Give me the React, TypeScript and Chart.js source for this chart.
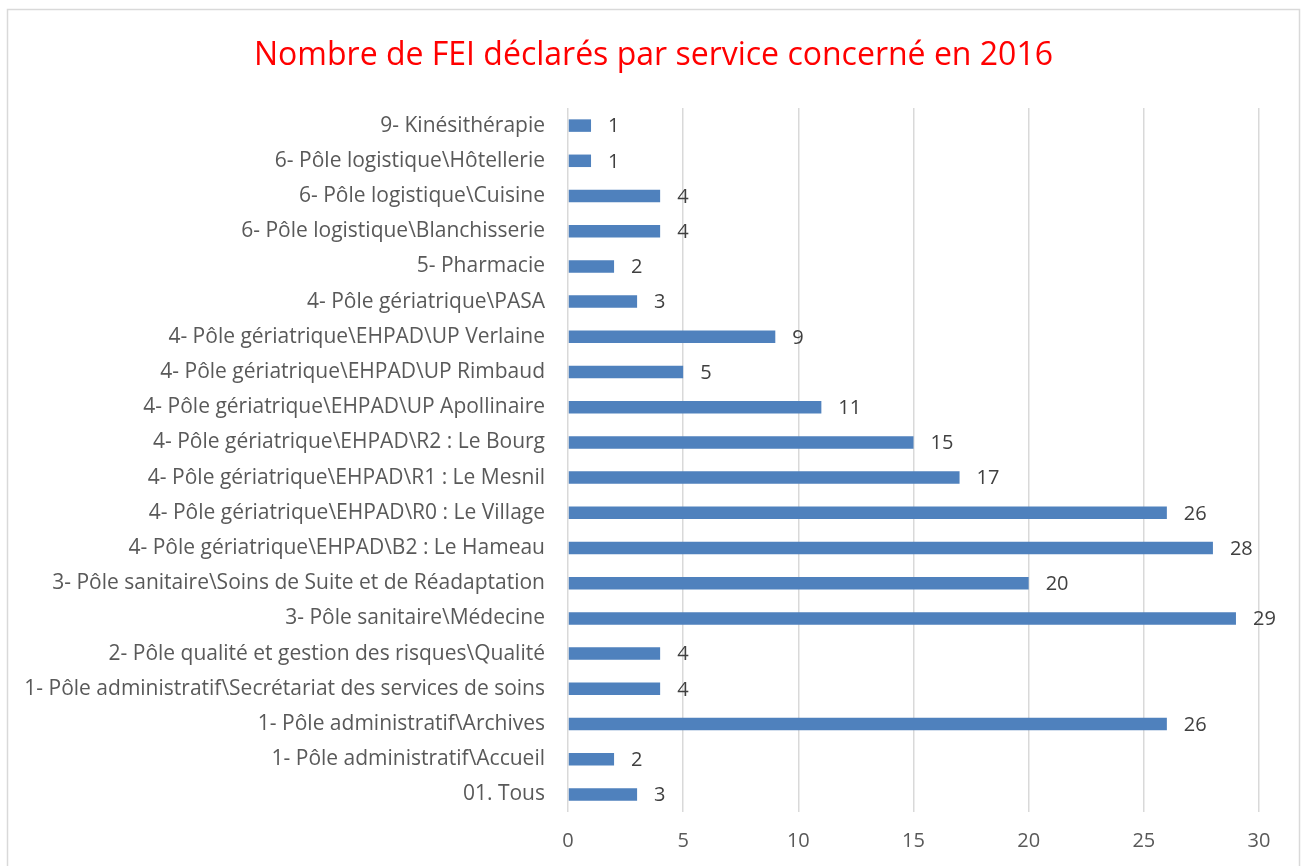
import React, { useEffect, useRef } from "react";
import { Chart, registerables } from "chart.js";

Chart.register(...registerables);

const TITLE = "Nombre de FEI déclarés par service concerné en 2016";

const categories: string[] = [
  "9- Kinésithérapie",
  "6- Pôle logistique\\Hôtellerie",
  "6- Pôle logistique\\Cuisine",
  "6- Pôle logistique\\Blanchisserie",
  "5- Pharmacie",
  "4- Pôle gériatrique\\PASA",
  "4- Pôle gériatrique\\EHPAD\\UP Verlaine",
  "4- Pôle gériatrique\\EHPAD\\UP Rimbaud",
  "4- Pôle gériatrique\\EHPAD\\UP Apollinaire",
  "4- Pôle gériatrique\\EHPAD\\R2 : Le Bourg",
  "4- Pôle gériatrique\\EHPAD\\R1 : Le Mesnil",
  "4- Pôle gériatrique\\EHPAD\\R0 : Le Village",
  "4- Pôle gériatrique\\EHPAD\\B2 : Le Hameau",
  "3- Pôle sanitaire\\Soins de Suite et de Réadaptation",
  "3- Pôle sanitaire\\Médecine",
  "2- Pôle qualité et gestion des risques\\Qualité",
  "1- Pôle administratif\\Secrétariat des services de soins",
  "1- Pôle administratif\\Archives",
  "1- Pôle administratif\\Accueil",
  "01. Tous",
];

const values: number[] = [1, 1, 4, 4, 2, 3, 9, 5, 11, 15, 17, 26, 28, 20, 29, 4, 4, 26, 2, 3];

const xTicks: number[] = [0, 5, 10, 15, 20, 25, 30];

const FONT = "'Open Sans'";

const valueLabels = {
  id: "valueLabels",
  afterDatasetsDraw(chart: any) {
    const ctx = chart.ctx;
    const meta = chart.getDatasetMeta(0);
    ctx.save();
    ctx.font = `20px ${FONT}`;
    ctx.fillStyle = "#404040";
    ctx.textAlign = "left";
    ctx.textBaseline = "middle";
    meta.data.forEach((bar: any, i: number) => {
      ctx.fillText(String(values[i]), bar.x + 17, bar.y + 1);
    });
    ctx.restore();
  },
};

const outerBorder = {
  id: "outerBorder",
  beforeDraw(chart: any) {
    const ctx = chart.ctx;
    ctx.save();
    ctx.fillStyle = "#ffffff";
    ctx.fillRect(0, 0, chart.width, chart.height);
    ctx.strokeStyle = "#d9d9d9";
    ctx.lineWidth = 1.5;
    ctx.strokeRect(7.5, 9.5, chart.width - 9, chart.height + 20);
    ctx.restore();
  },
};

// centre the title over the whole chart frame rather than the padded box
const titleShift = {
  id: "titleShift",
  afterLayout(chart: any) {
    const tb = chart.titleBlock;
    if (tb) {
      tb.left = 48;
    }
  },
};

export default function App() {
  const ref = useRef<HTMLCanvasElement | null>(null);

  useEffect(() => {
    document.body.style.margin = "0";
    const canvas = ref.current;
    if (!canvas) return;
    const chart = new Chart(canvas, {
      type: "bar",
      data: {
        labels: categories,
        datasets: [
          {
            data: values,
            backgroundColor: "#4f81bd",
            borderWidth: 0,
            barPercentage: 0.355,
            categoryPercentage: 1,
          },
        ],
      },
      options: {
        indexAxis: "y",
        animation: false,
        responsive: false,
        layout: { padding: { left: 0, right: 42, top: 0, bottom: 0 } },
        plugins: {
          legend: { display: false },
          tooltip: { enabled: false },
          title: {
            display: true,
            text: TITLE,
            color: "#ff0000",
            font: { family: FONT, size: 32, weight: "normal" },
            padding: { top: 37, bottom: 32.6 },
          },
        },
        scales: {
          x: {
            min: 0,
            max: 30,
            afterBuildTicks(scale: any) {
              scale.ticks = xTicks.map((v) => ({ value: v }));
            },
            afterFit(scale: any) {
              scale.height = 54;
            },
            grid: { color: "#d9d9d9", lineWidth: 1.5, drawTicks: false },
            border: { display: false },
            ticks: {
              color: "#595959",
              font: { family: FONT, size: 20 },
              padding: 17,
            },
          },
          y: {
            afterFit(scale: any) {
              scale.width = 568;
            },
            grid: { display: false, drawTicks: false },
            border: { display: false },
            ticks: {
              color: "#595959",
              font: { family: FONT, size: 21 },
              padding: 23,
              autoSkip: false,
            },
          },
        },
      },
      plugins: [outerBorder, valueLabels, titleShift],
    });
    return () => chart.destroy();
  }, []);

  return (
    <div style={{ width: 1301, height: 866, position: "relative" }}>
      <canvas ref={ref} width={1301} height={866} style={{ display: "block" }} />
    </div>
  );
}
